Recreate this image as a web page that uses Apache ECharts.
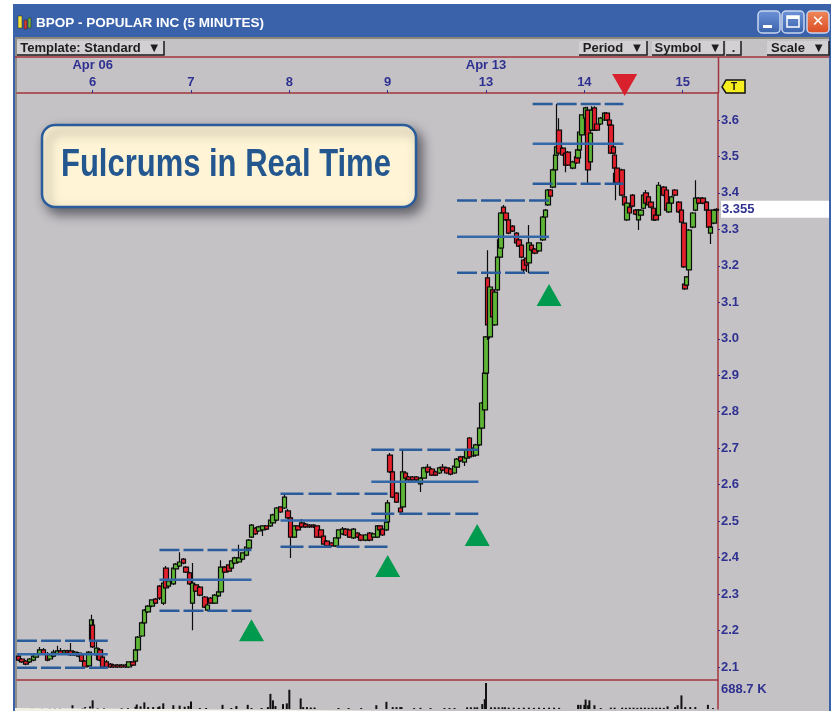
<!DOCTYPE html>
<html>
<head>
<meta charset="utf-8">
<title>BPOP - POPULAR INC (5 MINUTES)</title>
<script src="https://cdn.jsdelivr.net/npm/echarts@6/dist/echarts.min.js"></script>
<style>
  html, body { margin: 0; padding: 0; background: #fff; }
  #chart { width: 833px; height: 711px; }
</style>
</head>
<body>
<div id="chart"></div>
<script>
// rows are [bar number, open, close, low, high], 78 bars to a session
const sessionApr03 = [
  [1,2.130,2.119,2.116,2.133],[4,2.122,2.114,2.111,2.125],[7,2.116,2.108,2.105,2.119],[10,2.114,2.122,2.111,2.125],
  [13,2.119,2.130,2.116,2.133],[15,2.127,2.136,2.125,2.138],[18,2.136,2.147,2.133,2.155],[21,2.147,2.136,2.133,2.152],
  [24,2.136,2.119,2.116,2.141],[26,2.122,2.133,2.119,2.136],[29,2.130,2.141,2.127,2.147],[32,2.136,2.144,2.133,2.158],
  [35,2.144,2.136,2.133,2.152],[38,2.138,2.144,2.136,2.147],[40,2.144,2.138,2.136,2.147],[43,2.144,2.133,2.130,2.166],
  [46,2.133,2.141,2.130,2.144],[49,2.138,2.130,2.127,2.141],[51,2.133,2.116,2.114,2.136],[54,2.116,2.100,2.097,2.119],
  [57,2.103,2.141,2.100,2.144]
]
const sessionApr06 = [
  [59,2.174,2.229,2.166,2.243],[60,2.215,2.155,2.152,2.229],[63,2.133,2.152,2.119,2.174],[66,2.147,2.119,2.116,2.152],
  [68,2.127,2.100,2.097,2.147],[71,2.114,2.100,2.097,2.119],[74,2.108,2.100,2.097,2.111],[77,2.105,2.100,2.097,2.108],
  [80,2.105,2.100,2.097,2.108],[83,2.105,2.100,2.097,2.108],[86,2.105,2.100,2.097,2.108],[89,2.100,2.114,2.097,2.116],
  [92,2.114,2.105,2.103,2.116],[94,2.116,2.147,2.114,2.152],[96,2.147,2.182,2.144,2.185],[99,2.185,2.221,2.182,2.224],
  [101,2.221,2.256,2.218,2.259],[104,2.251,2.267,2.248,2.270],[107,2.267,2.284,2.264,2.286],[110,2.286,2.275,2.273,2.289],
  [113,2.322,2.289,2.284,2.325],[116,2.275,2.330,2.270,2.333],[118,2.371,2.317,2.314,2.377],[120,2.322,2.336,2.319,2.339],
  [124,2.328,2.371,2.325,2.374],[126,2.369,2.382,2.366,2.385],[129,2.377,2.388,2.374,2.415],[132,2.396,2.385,2.382,2.399],
  [134,2.374,2.360,2.358,2.377],[137,2.358,2.328,2.325,2.361]
]
const sessionApr07 = [
  [139,2.275,2.330,2.201,2.385],[142,2.325,2.308,2.306,2.328],[145,2.319,2.297,2.294,2.322],[149,2.292,2.264,2.262,2.295],
  [151,2.256,2.270,2.253,2.273],[154,2.289,2.275,2.273,2.292],[157,2.275,2.297,2.273,2.300],[160,2.295,2.306,2.292,2.317],
  [162,2.306,2.374,2.303,2.393],[165,2.374,2.360,2.358,2.377],[168,2.380,2.363,2.360,2.382],[170,2.371,2.391,2.369,2.393],
  [173,2.385,2.399,2.382,2.402],[176,2.388,2.399,2.385,2.435],[179,2.396,2.413,2.393,2.415],[182,2.407,2.429,2.404,2.432],
  [184,2.426,2.448,2.423,2.451],[186,2.456,2.489,2.454,2.492],[189,2.481,2.465,2.462,2.484],[192,2.473,2.484,2.470,2.487],
  [195,2.476,2.487,2.459,2.489],[198,2.487,2.478,2.476,2.489],[201,2.487,2.503,2.484,2.506],[203,2.495,2.517,2.492,2.520],
  [206,2.503,2.536,2.500,2.539],[209,2.539,2.525,2.522,2.541],[212,2.536,2.566,2.533,2.572]
]
const sessionApr08 = [
  [215,2.528,2.509,2.506,2.533],[217,2.509,2.456,2.399,2.514],[220,2.456,2.487,2.454,2.489],[223,2.487,2.476,2.473,2.489],
  [226,2.495,2.484,2.481,2.506],[229,2.492,2.484,2.481,2.495],[232,2.489,2.484,2.481,2.492],[235,2.489,2.484,2.481,2.492],
  [238,2.487,2.456,2.454,2.489],[241,2.476,2.456,2.454,2.478],[243,2.459,2.437,2.435,2.462],[246,2.445,2.432,2.429,2.448],
  [250,2.440,2.432,2.429,2.443],[253,2.432,2.454,2.429,2.456],[255,2.454,2.476,2.451,2.478],[258,2.465,2.478,2.462,2.484],
  [261,2.478,2.462,2.459,2.481],[264,2.476,2.456,2.454,2.478],[267,2.454,2.478,2.451,2.481],[270,2.467,2.456,2.454,2.470],
  [273,2.462,2.448,2.445,2.465],[277,2.448,2.462,2.445,2.465],[280,2.467,2.448,2.445,2.470],[283,2.456,2.465,2.454,2.467],
  [286,2.456,2.487,2.454,2.489],[288,2.487,2.476,2.473,2.489],[290,2.478,2.462,2.459,2.481],[293,2.476,2.498,2.473,2.500]
]
const sessionApr09 = [
  [294,2.498,2.550,2.495,2.558],[296,2.681,2.635,2.632,2.687],[298,2.635,2.566,2.563,2.640],[301,2.577,2.552,2.550,2.580],
  [304,2.536,2.525,2.522,2.539],[306,2.539,2.635,2.536,2.695],[308,2.632,2.618,2.616,2.635],[311,2.621,2.613,2.610,2.624],
  [314,2.621,2.613,2.610,2.624],[317,2.621,2.613,2.610,2.624],[320,2.602,2.618,2.580,2.621],[323,2.618,2.646,2.616,2.649],
  [326,2.648,2.635,2.632,2.657],[329,2.643,2.626,2.624,2.646],[332,2.635,2.626,2.624,2.638],[335,2.632,2.646,2.629,2.649],
  [338,2.648,2.640,2.637,2.657],[341,2.646,2.632,2.629,2.649],[344,2.643,2.629,2.626,2.646],[347,2.632,2.651,2.629,2.654],
  [349,2.648,2.670,2.646,2.673],[352,2.676,2.665,2.662,2.679],[355,2.662,2.676,2.651,2.679],[357,2.673,2.695,2.670,2.698],
  [359,2.728,2.676,2.673,2.731],[362,2.679,2.700,2.676,2.703],[364,2.681,2.709,2.678,2.712],[367,2.709,2.755,2.706,2.758],
  [369,2.755,2.824,2.752,2.827],[371,2.805,2.906,2.777,2.909]
]
const sessionApr13 = [
  [372,2.906,3.005,2.903,3.008],[373,3.167,3.038,2.997,3.243],[375,3.005,3.142,3.000,3.145],[377,3.134,3.060,3.057,3.137],
  [379,3.038,3.128,3.035,3.131],[381,3.134,3.224,3.131,3.227],[383,3.224,3.271,3.221,3.274],[384,3.249,3.345,3.246,3.348],
  [386,3.361,3.345,3.342,3.367],[388,3.345,3.326,3.323,3.348],[390,3.326,3.290,3.287,3.329],[393,3.309,3.295,3.293,3.312],
  [396,3.290,3.263,3.260,3.293],[398,3.271,3.254,3.252,3.274],[400,3.257,3.224,3.221,3.260],[402,3.216,3.189,3.183,3.219],
  [404,3.221,3.202,3.183,3.224],[406,3.208,3.263,3.180,3.312],[408,3.257,3.243,3.241,3.260],[411,3.246,3.235,3.232,3.249],
  [414,3.241,3.263,3.238,3.265],[417,3.271,3.334,3.268,3.337],[419,3.334,3.353,3.331,3.356],[421,3.367,3.408,3.364,3.411],
  [423,3.408,3.391,3.389,3.411],[425,3.416,3.463,3.413,3.466],[427,3.463,3.504,3.460,3.507],[428,3.504,3.526,3.501,3.644],
  [430,3.572,3.509,3.507,3.605],[433,3.523,3.504,3.501,3.526],[435,3.509,3.476,3.457,3.512],[437,3.512,3.476,3.474,3.515],
  [441,3.468,3.485,3.465,3.488],[444,3.499,3.482,3.479,3.501],[445,3.496,3.518,3.493,3.520],[446,3.518,3.567,3.515,3.570],
  [448,3.559,3.614,3.556,3.616]
]
const sessionApr14 = [
  [451,3.605,3.633,3.603,3.636],[453,3.627,3.463,3.427,3.636],[455,3.485,3.564,3.482,3.567],[456,3.572,3.627,3.570,3.638],
  [458,3.633,3.572,3.570,3.638],[460,3.589,3.572,3.570,3.592],[463,3.589,3.605,3.586,3.608],[466,3.600,3.619,3.597,3.622],
  [468,3.619,3.600,3.597,3.622],[470,3.600,3.586,3.583,3.603],[471,3.586,3.509,3.507,3.589],[473,3.526,3.509,3.507,3.529],
  [474,3.504,3.468,3.465,3.507],[475,3.427,3.454,3.380,3.457],[476,3.468,3.427,3.424,3.471],[480,3.463,3.394,3.391,3.466],
  [482,3.389,3.367,3.364,3.392],[484,3.326,3.372,3.323,3.375],[486,3.361,3.345,3.342,3.364],[488,3.394,3.364,3.361,3.397],
  [491,3.353,3.342,3.339,3.356],[493,3.326,3.353,3.298,3.356],[495,3.339,3.353,3.337,3.356],[497,3.358,3.394,3.356,3.397],
  [499,3.400,3.372,3.369,3.408],[501,3.389,3.367,3.364,3.391],[503,3.375,3.361,3.358,3.378],[505,3.358,3.326,3.323,3.361],
  [507,3.339,3.326,3.323,3.342],[509,3.339,3.421,3.337,3.430],[513,3.416,3.394,3.391,3.419],[515,3.408,3.353,3.350,3.411],
  [517,3.348,3.372,3.345,3.375],[519,3.372,3.389,3.369,3.392],[522,3.408,3.394,3.391,3.411],[525,3.375,3.348,3.345,3.378]
]
const sessionApr15 = [
  [527,3.353,3.320,3.318,3.356],[529,3.317,3.197,3.194,3.320],[530,3.150,3.137,3.134,3.153],[531,3.147,3.170,3.145,3.172],
  [533,3.189,3.298,3.170,3.301],[536,3.306,3.345,3.303,3.348],[538,3.353,3.386,3.350,3.435],[541,3.386,3.372,3.369,3.389],
  [544,3.386,3.372,3.369,3.389],[547,3.375,3.353,3.350,3.378],[549,3.353,3.306,3.303,3.356],[550,3.290,3.306,3.260,3.309],
  [553,3.317,3.353,3.314,3.356],[555,3.355,3.353,3.350,3.358]
]
const candles = [].concat(sessionApr03, sessionApr06, sessionApr07, sessionApr08, sessionApr09, sessionApr13, sessionApr14, sessionApr15)

// volume in thousands, [bar number, volume]
const volumeLeft = [
  [12,25],[20,25],[26,25],[30,25],[34,25],[44,100],[52,25],[54,50],[58,70],[60,230],[64,25],[69,25],[83,25],[88,25],[94,60],
  [95,120],[98,70],[101,175],[104,50],[108,50],[112,50],[113,70],[116,150],[124,100],[129,90],[133,60],[136,80],[138,200],
  [145,25],[150,25],[163,110],[170,25],[174,80],[183,110],[186,25],[194,25],[199,50],[201,400],[203,230],[205,80],[211,130],
  [214,150],[216,510]
]
const volumeRight = [
  [225,280],[227,50],[230,50],[233,40],[236,40],[255,25],[263,25],[273,25],[285,100],[293,190],[298,50],[301,50],[304,50],[305,50],
  [315,25],[320,30],[328,25],[339,25],[343,25],[347,25],[357,45],[360,45],[363,45],[365,45],[369,130],[371,260],[372,688.7],
  [376,45],[379,45],[382,45],[385,45],[387,45],[390,35],[394,35],[398,30],[402,35],[406,35],[410,30],[414,35],[418,30],[422,35],
  [426,35],[430,30],[445,110],[447,110],[450,110],[451,250],[453,100],[454,230],[458,100],[463,25],[471,35],[474,35],[480,35],
  [483,30],[486,35],[489,35],[492,30],[495,35],[498,35],[501,30],[504,35],[507,35],[510,35],[513,30],[516,70],[522,50],[524,100],
  [527,360],[530,50],[534,50],[538,50],[548,110],[552,25]
]
const volumes = volumeLeft.concat(volumeRight)

// fulcrum boxes: first bar, last bar, upper, middle and lower price
const fulcrumStart = [0, 113, 209, 281, 349, 409]
const fulcrumEnd = [72, 186, 294, 366, 422, 481]
const fulcrumUpper = [2.172, 2.421, 2.575, 2.696, 3.379, 3.644]
const fulcrumMiddle = [2.135, 2.339, 2.502, 2.608, 3.280, 3.535]
const fulcrumLower = [2.098, 2.254, 2.430, 2.520, 3.181, 3.425]
const fulcrumDash = [[20, 4], [20, 4], [23, 5], [23, 5], [20, 4], [20, 4]]

const buySignals = [[186, 2.201], [294, 2.377], [365, 2.462], [422, 3.120]]
const sellSignals = [[482, 3.696]]

const dayBars = [60, 138, 216, 294, 372, 450, 528]
const dayLabels = ['Apr 06\n6', '7', '8', '9', 'Apr 13\n13', '14', '15']
const priceTicks = [2.1, 2.2, 2.3, 2.4, 2.5, 2.6, 2.7, 2.8, 2.9, 3.0, 3.1, 3.2, 3.3, 3.4, 3.5, 3.6]
const lastPrice = 3.355
const volumeTop = 688.7

const FONT = '"Liberation Sans", Arial, sans-serif'
const NAVY = '#2f3190'
const RULE = '#a2343c'
const PANEL = '#c5c2c6'
const FULCRUM = '#2a5c9c'

function toolButton(x, w, label) {
  return [
    { type: 'rect', z: 1, shape: { x, y: 41, width: w, height: 14 }, style: { fill: '#d2d0d2', stroke: null } },
    { type: 'polyline', z: 1, shape: { points: [[x + w, 41], [x + w, 55], [x, 55]] }, style: { stroke: '#1a1a1a', lineWidth: 1.5, fill: null } },
    { type: 'text', z: 2, style: { x: x + w / 2, y: 48, text: label, align: 'center', verticalAlign: 'middle', font: 'bold 13px ' + FONT, fill: '#1d1d1d' } },
  ]
}

function windowButton(x, fill0, fill1) {
  return { type: 'rect', z: 1, shape: { x, y: 11, width: 22, height: 22, r: 4 }, style: {
    stroke: '#c9d6f0', lineWidth: 1.5,
    fill: { type: 'linear', x: 0, y: 0, x2: 0, y2: 1, colorStops: [{ offset: 0, color: fill0 }, { offset: 1, color: fill1 }] },
  } }
}

const chrome = [
  { type: 'rect', z: -5, shape: { x: 13, y: 4, width: 818, height: 707 }, style: { fill: '#3a62ab' } },
  { type: 'rect', z: -4, shape: { x: 15, y: 38, width: 814, height: 673 }, style: { fill: PANEL } },
  { type: 'rect', z: -3, shape: { x: 15, y: 37, width: 814, height: 2 }, style: { fill: '#8a8878' } },
  { type: 'rect', z: -3, shape: { x: 15, y: 38, width: 2, height: 673 }, style: { fill: '#8f8d88' } },
  { type: 'text', z: 2, style: { x: 36, y: 23, text: 'BPOP - POPULAR INC (5 MINUTES)', verticalAlign: 'middle', font: 'bold 13.5px "Liberation Sans"', fill: '#fff', shadowColor: '#12285a', shadowBlur: 1, shadowOffsetX: 1, shadowOffsetY: 1 } },
  // title bar icon
  { type: 'rect', z: 1, shape: { x: 18, y: 16, width: 4, height: 12 }, style: { fill: '#f2e23a', stroke: '#222', lineWidth: 0.5 } },
  { type: 'rect', z: 1, shape: { x: 24, y: 20, width: 3, height: 9 }, style: { fill: '#d23a30', stroke: '#222', lineWidth: 0.5 } },
  { type: 'rect', z: 1, shape: { x: 28, y: 18, width: 3, height: 10 }, style: { fill: '#6cb33f', stroke: '#222', lineWidth: 0.5 } },
  windowButton(758, '#6d93d8', '#3a62ab'),
  { type: 'rect', z: 2, shape: { x: 763, y: 25, width: 9, height: 3 }, style: { fill: '#fff' } },
  windowButton(782, '#6d93d8', '#3a62ab'),
  { type: 'rect', z: 2, shape: { x: 787, y: 16, width: 12, height: 11 }, style: { fill: null, stroke: '#fff', lineWidth: 1.5 } },
  { type: 'rect', z: 2, shape: { x: 787, y: 16, width: 12, height: 3 }, style: { fill: '#fff' } },
  windowButton(807, '#ee8a5c', '#dc4a22'),
  { type: 'text', z: 2, style: { x: 818, y: 22, text: '✕', align: 'center', verticalAlign: 'middle', font: 'bold 15px "DejaVu Sans"', fill: '#fff' } },
  ...toolButton(17, 147, 'Template: Standard  ▼'),
  ...toolButton(579, 68, 'Period  ▼'),
  ...toolButton(652, 72, 'Symbol  ▼'),
  ...toolButton(726, 15, '.'),
  ...toolButton(767, 62, 'Scale  ▼'),
  // rules of the date strip
  { type: 'line', z: 1, shape: { x1: 15, y1: 57, x2: 829, y2: 57 }, style: { stroke: RULE, lineWidth: 1.5 } },
  { type: 'line', z: 1, shape: { x1: 718.5, y1: 57, x2: 718.5, y2: 93 }, style: { stroke: RULE, lineWidth: 1.5 } },
  // last price tag
  { type: 'polygon', z: 3, shape: { points: [[722, 87], [726, 80], [745, 80], [745, 93], [726, 93]] }, style: { fill: '#f6ee1e', stroke: '#111', lineWidth: 1.5 } },
  { type: 'text', z: 4, style: { x: 734, y: 87, text: 'T', align: 'center', verticalAlign: 'middle', font: 'bold 10px ' + FONT, fill: '#111' } },
  // the bottom of the scan runs out of the frame on the right
  { type: 'polygon', z: 6, shape: { points: [[15, 708], [430, 711], [15, 711]] }, style: { fill: '#f2f0e6' } },
  // callout, no condensed face installed so the bold face is squeezed
  { type: 'rect', z: 20, shape: { x: 42, y: 125, width: 374, height: 82, r: 13 }, style: { fill: '#fff5d6', stroke: '#2a5c9c', lineWidth: 2.5, shadowBlur: 12, shadowColor: 'rgba(40,40,50,0.65)', shadowOffsetX: 5, shadowOffsetY: 6 } },
  { type: 'text', z: 21, x: 61, y: 166, scaleX: 0.815, style: { x: 0, y: 0, text: 'Fulcrums in Real Time', align: 'left', verticalAlign: 'middle', font: 'bold 38px "Liberation Sans"', fill: '#24578f' } },
]

const fulcrumSeries = []
fulcrumStart.forEach((start, i) => {
  const end = fulcrumEnd[i]
  fulcrumSeries.push({
    type: 'line', xAxisIndex: 0, yAxisIndex: 0, symbol: 'none', silent: true, z: 5,
    connectNulls: false,
    lineStyle: { color: FULCRUM, width: 2.5, type: fulcrumDash[i] },
    data: [[start, fulcrumUpper[i]], [end, fulcrumUpper[i]], [null, null], [start, fulcrumLower[i]], [end, fulcrumLower[i]]],
  })
  fulcrumSeries.push({
    type: 'line', xAxisIndex: 0, yAxisIndex: 0, symbol: 'none', silent: true, z: 5,
    lineStyle: { color: '#3568a8', width: 2.5 },
    data: [[start, fulcrumMiddle[i]], [end, fulcrumMiddle[i]]],
  })
})

const option = {
  animation: false,
  backgroundColor: '#fff',
  textStyle: { fontFamily: FONT },
  graphic: { elements: chrome },
  grid: [
    { left: 17, top: 93, width: 701, height: 586, show: false },
    { left: 17, top: 680, width: 701, height: 29, show: false },
  ],
  xAxis: [
    {
      type: 'value', gridIndex: 0, position: 'top', min: 0, max: 556,
      splitLine: { show: false },
      axisLine: { onZero: false, lineStyle: { color: RULE, width: 1.5 } },
      axisTick: { customValues: dayBars, length: 3, inside: false, lineStyle: { color: NAVY } },
      axisLabel: {
        customValues: dayBars, margin: 2, lineHeight: 17,
        color: NAVY, fontSize: 13, fontWeight: 'bold', fontFamily: FONT,
        formatter: v => dayLabels[dayBars.indexOf(v)],
      },
    },
    {
      type: 'value', gridIndex: 1, position: 'top', min: 0, max: 556,
      splitLine: { show: false },
      axisLine: { onZero: false, lineStyle: { color: RULE, width: 1.5 } },
      axisTick: { show: false },
      axisLabel: { show: false },
    },
  ],
  yAxis: [
    {
      type: 'value', gridIndex: 0, position: 'right', min: 2.0671, max: 3.674, scale: true,
      splitLine: { show: false },
      axisLine: { show: true, onZero: false, lineStyle: { color: RULE, width: 1.5 } },
      axisTick: { customValues: priceTicks, length: 2, lineStyle: { color: NAVY } },
      axisLabel: {
        customValues: priceTicks.concat([lastPrice]), margin: 3,
        color: NAVY, fontSize: 13, fontWeight: 'bold', fontFamily: FONT,
        formatter: v => (v === lastPrice ? '{last|' + v.toFixed(3) + '}' : v.toFixed(1)),
        rich: {
          last: { backgroundColor: '#fff', color: NAVY, fontSize: 13, fontWeight: 'bold', width: 107, height: 17, lineHeight: 17, padding: [0, 0, 0, 1] },
        },
      },
    },
    {
      type: 'value', gridIndex: 1, position: 'right', min: 0, max: 768,
      splitLine: { show: false },
      axisLine: { show: true, onZero: false, lineStyle: { color: RULE, width: 1.5 } },
      axisTick: { show: false },
      axisLabel: {
        customValues: [volumeTop], margin: 3, verticalAlign: 'top',
        color: NAVY, fontSize: 13, fontWeight: 'bold', fontFamily: FONT,
        formatter: v => v.toFixed(1) + ' K',
      },
    },
  ],
  series: [
    {
      type: 'candlestick', name: 'BPOP', xAxisIndex: 0, yAxisIndex: 0, z: 3,
      barWidth: 5,
      encode: { x: 0, y: [1, 2, 3, 4] },
      itemStyle: { color: '#5eb536', color0: '#e3202c', borderColor: '#0b0b0b', borderColor0: '#0b0b0b', borderWidth: 1.2 },
      data: candles,
    },
    ...fulcrumSeries,
    {
      type: 'bar', name: 'Volume', xAxisIndex: 1, yAxisIndex: 1, barWidth: 2, z: 3,
      itemStyle: { color: '#111' },
      data: volumes,
    },
    {
      type: 'scatter', name: 'Buy', xAxisIndex: 0, yAxisIndex: 0, symbol: 'triangle', symbolSize: [25, 22], z: 8,
      itemStyle: { color: '#009a4e', opacity: 1 },
      data: buySignals,
    },
    {
      type: 'scatter', name: 'Sell', xAxisIndex: 0, yAxisIndex: 0, symbol: 'triangle', symbolRotate: 180, symbolSize: [25, 22], z: 8,
      clip: false,
      itemStyle: { color: '#d8212d', opacity: 1 },
      data: sellSignals,
    },
  ],
}

const chart = echarts.init(document.getElementById('chart'), null, { renderer: 'canvas' })
chart.setOption(option)
</script>
</body>
</html>
